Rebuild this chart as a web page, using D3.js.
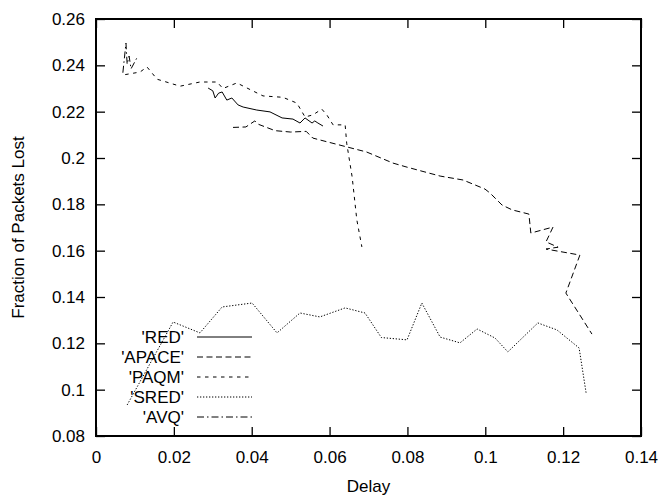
<!DOCTYPE html>
<html><head><meta charset="utf-8">
<script src="https://cdn.jsdelivr.net/npm/d3@7"></script>
<style>body{margin:0;background:#fff}svg{display:block}</style>
</head><body>
<script>
const seriesNames = ["'RED'", "'APACE'", "'PAQM'", "'SRED'", "'AVQ'"];
const xTicks = [0, 0.02, 0.04, 0.06, 0.08, 0.1, 0.12, 0.14];
const yTicks = [0.08, 0.1, 0.12, 0.14, 0.16, 0.18, 0.2, 0.22, 0.24, 0.26];
const redData = [[0.0288,0.2302],[0.0300,0.2290],[0.0306,0.2259],[0.0315,0.2280],[0.0324,0.2285],[0.0336,0.2250],[0.0349,0.2259],[0.0365,0.2229],[0.0378,0.2220],[0.0413,0.2207],[0.0447,0.2199],[0.0478,0.2173],[0.0506,0.2168],[0.0524,0.2151],[0.0537,0.2173],[0.0555,0.2151],[0.0562,0.2160],[0.0570,0.2151],[0.0583,0.2138]];
const apaceData = [[0.0352,0.2132],[0.0385,0.2134],[0.0408,0.2160],[0.0418,0.2145],[0.0460,0.2118],[0.0500,0.2112],[0.0540,0.2115],[0.0557,0.2086],[0.0575,0.2078],[0.0644,0.2048],[0.0695,0.2026],[0.0763,0.1978],[0.0800,0.1960],[0.0884,0.1922],[0.0943,0.1905],[0.0999,0.1866],[0.1012,0.1849],[0.1043,0.1797],[0.1069,0.1776],[0.1112,0.1758],[0.1117,0.1676],[0.1174,0.1702],[0.1156,0.1638],[0.1187,0.1615],[0.1156,0.1607],[0.1243,0.1581],[0.1207,0.1417],[0.1274,0.1240]];
const paqmData = [[0.0075,0.2360],[0.0113,0.2371],[0.0131,0.2393],[0.0157,0.2340],[0.0216,0.2310],[0.0267,0.2328],[0.0311,0.2328],[0.0326,0.2300],[0.0362,0.2324],[0.0388,0.2302],[0.0429,0.2268],[0.0480,0.2262],[0.0516,0.2237],[0.0537,0.2177],[0.0557,0.2186],[0.0580,0.2211],[0.0593,0.2186],[0.0609,0.2143],[0.0640,0.2143],[0.0644,0.2064],[0.0658,0.1918],[0.0670,0.1733],[0.0683,0.1616]];
const sredData = [[0.0080,0.0934],[0.0198,0.1292],[0.0267,0.1245],[0.0324,0.1357],[0.0401,0.1374],[0.0465,0.1245],[0.0524,0.1331],[0.0575,0.1314],[0.0640,0.1353],[0.0691,0.1331],[0.0733,0.1225],[0.0799,0.1215],[0.0837,0.1374],[0.0884,0.1227],[0.0935,0.1202],[0.0979,0.1262],[0.1025,0.1223],[0.1058,0.1163],[0.1135,0.1288],[0.1184,0.1258],[0.1241,0.1180],[0.1259,0.0986]];
const avqData = [[0.0069,0.2368],[0.0077,0.2496],[0.0080,0.2405],[0.0085,0.2440],[0.0090,0.2385],[0.0105,0.2432]];

const W = 658, H = 495;
const m = {left: 96, top: 19, right: 17, bottom: 59};
const iw = W - m.left - m.right, ih = H - m.top - m.bottom;
const font = "'Liberation Sans', Arial, Helvetica, sans-serif";

const svg = d3.select("body").append("svg").attr("width", W).attr("height", H)
  .style("font-family", font);
const g = svg.append("g").attr("transform", `translate(${m.left},${m.top})`);

const x = d3.scaleLinear().domain([0, 0.14]).range([0, iw]);
const y = d3.scaleLinear().domain([0.08, 0.26]).range([ih, 0]);

const fmt = d => String(+d.toFixed(2));
const tickLen = 9;

function styleAxis(sel, labels) {
  sel.select(".domain").remove();
  sel.selectAll("line").attr("stroke", "#000").attr("stroke-width", 1.3);
  sel.selectAll("text").attr("fill", "#000").style("font-size", "17px").style("font-family", font);
  if (!labels) sel.selectAll("text").remove();
}
g.append("g").attr("transform", `translate(0,${ih})`)
  .call(d3.axisBottom(x).tickValues(xTicks).tickFormat(fmt).tickSizeInner(-tickLen).tickPadding(tickLen + 6))
  .call(s => styleAxis(s, true));
g.append("g")
  .call(d3.axisTop(x).tickValues(xTicks).tickSizeInner(-tickLen))
  .call(s => styleAxis(s, false));
g.append("g")
  .call(d3.axisLeft(y).tickValues(yTicks).tickFormat(fmt).tickSizeInner(-tickLen).tickPadding(tickLen + 2))
  .call(s => styleAxis(s, true));
g.append("g").attr("transform", `translate(${iw},0)`)
  .call(d3.axisRight(y).tickValues(yTicks).tickSizeInner(-tickLen))
  .call(s => styleAxis(s, false));

g.append("rect").attr("width", iw).attr("height", ih)
  .attr("fill", "none").attr("stroke", "#000").attr("stroke-width", 2);

const series = [
  {name: seriesNames[0], data: redData, dash: null},
  {name: seriesNames[1], data: apaceData, dash: "6,3.5"},
  {name: seriesNames[2], data: paqmData, dash: "3.5,4.5"},
  {name: seriesNames[3], data: sredData, dash: "1.3,1.7"},
  {name: seriesNames[4], data: avqData, dash: "7,3,1.5,3"}
];
const line = d3.line().x(d => x(d[0])).y(d => y(d[1]));
series.forEach(s => {
  g.append("path").datum(s.data).attr("d", line)
    .attr("fill", "none").attr("stroke", "#000").attr("stroke-width", 1)
    .attr("stroke-dasharray", s.dash);
});

// legend
const lg = svg.append("g");
series.forEach((s, i) => {
  const yy = 337 + i * 20;
  lg.append("text").attr("x", 184).attr("y", yy + 6).attr("text-anchor", "end")
    .style("font-size", "17px").text(s.name);
  lg.append("line").attr("x1", 197).attr("x2", 252).attr("y1", yy).attr("y2", yy)
    .attr("stroke", "#000").attr("stroke-width", 1).attr("stroke-dasharray", s.dash);
});

svg.append("text").attr("x", m.left + iw / 2).attr("y", 492).attr("text-anchor", "middle")
  .style("font-size", "17px").text("Delay");
svg.append("text").attr("transform", `translate(24,${m.top + ih / 2}) rotate(-90)`)
  .attr("text-anchor", "middle").style("font-size", "17px").text("Fraction of Packets Lost");
</script>
</body></html>
